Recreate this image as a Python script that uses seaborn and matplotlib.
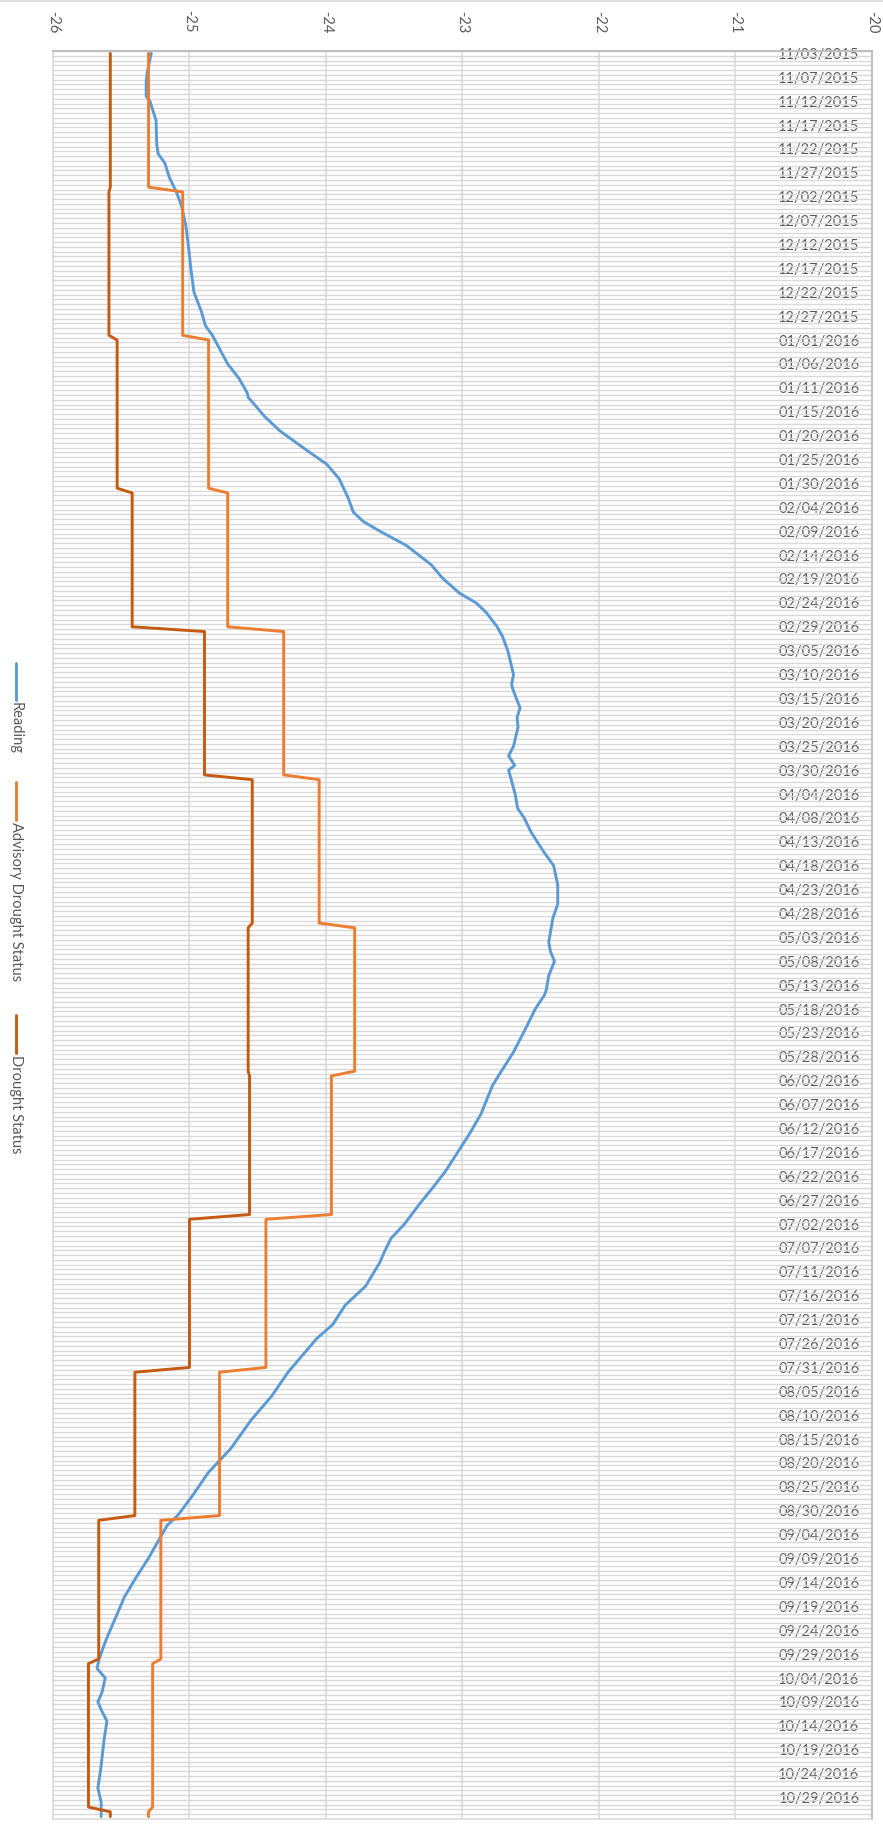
import numpy as np
import pandas as pd
import matplotlib
matplotlib.use("Agg")
import matplotlib.pyplot as plt
from matplotlib.lines import Line2D
import seaborn as sns

# category axis: one row per reading, a label every 5th row
category_count = 370
date_labels = [
    "11/03/2015", "11/07/2015", "11/12/2015", "11/17/2015", "11/22/2015", "11/27/2015",
    "12/02/2015", "12/07/2015", "12/12/2015", "12/17/2015", "12/22/2015", "12/27/2015",
    "01/01/2016", "01/06/2016", "01/11/2016", "01/15/2016", "01/20/2016", "01/25/2016",
    "01/30/2016", "02/04/2016", "02/09/2016", "02/14/2016", "02/19/2016", "02/24/2016",
    "02/29/2016", "03/05/2016", "03/10/2016", "03/15/2016", "03/20/2016", "03/25/2016",
    "03/30/2016", "04/04/2016", "04/08/2016", "04/13/2016", "04/18/2016", "04/23/2016",
    "04/28/2016", "05/03/2016", "05/08/2016", "05/13/2016", "05/18/2016", "05/23/2016",
    "05/28/2016", "06/02/2016", "06/07/2016", "06/12/2016", "06/17/2016", "06/22/2016",
    "06/27/2016", "07/02/2016", "07/07/2016", "07/11/2016", "07/16/2016", "07/21/2016",
    "07/26/2016", "07/31/2016", "08/05/2016", "08/10/2016", "08/15/2016", "08/20/2016",
    "08/25/2016", "08/30/2016", "09/04/2016", "09/09/2016", "09/14/2016", "09/19/2016",
    "09/24/2016", "09/29/2016", "10/04/2016", "10/09/2016", "10/14/2016", "10/19/2016",
    "10/24/2016", "10/29/2016",
]
value_ticks = [-26, -25, -24, -23, -22, -21, -20]

# Reading (at these rows)
reading_rows = [
    0, 4, 6, 9, 10, 14, 19, 21, 23, 26, 29, 32, 36, 40, 45, 50, 54, 57, 59,
    65, 68, 71, 72, 76, 79, 83, 86, 89, 93, 96, 98, 100, 103, 107, 110, 113, 115, 117, 120, 122,
    125, 130, 132, 133, 137, 139, 141, 145, 147, 149, 150, 155, 158, 160, 163, 167, 170, 174, 178, 181,
    186, 188, 190, 193, 196, 197, 200, 204, 209, 214, 216, 222, 226, 230, 234, 237, 241, 245, 248,
    251, 253, 258, 262, 266, 269, 276, 281, 286, 292, 297, 302, 306, 308, 311,
    315, 319, 323, 328, 332, 336, 338, 340, 343, 345, 347, 349, 353, 359, 363, 366, 369,
]
reading_values = [
    -25.28, -25.31, -25.317, -25.317, -25.29, -25.245, -25.24, -25.23, -25.18, -25.147, -25.096,
    -25.057, -25.027, -25.009, -24.99, -24.967, -24.913, -24.883, -24.832,
    -24.72, -24.638, -24.578, -24.569, -24.449, -24.338, -24.144, -23.994, -23.904, -23.838,
    -23.80, -23.725, -23.605, -23.41, -23.23, -23.14, -23.02, -22.90, -22.826, -22.746, -22.707,
    -22.668, -22.626, -22.64, -22.632, -22.578, -22.60, -22.593, -22.626, -22.662, -22.617,
    -22.662, -22.614, -22.596, -22.548, -22.497, -22.407, -22.332, -22.302, -22.302, -22.338,
    -22.368, -22.355, -22.326, -22.368, -22.386, -22.398, -22.467, -22.536, -22.626, -22.737,
    -22.78, -22.865, -22.946, -23.036, -23.126, -23.207, -23.32, -23.425, -23.524,
    -23.575, -23.605, -23.71, -23.86, -23.95, -24.069, -24.278, -24.398, -24.548, -24.698,
    -24.862, -24.982, -25.087, -25.162, -25.222,
    -25.302, -25.392, -25.476, -25.551, -25.611, -25.662, -25.677, -25.617, -25.641, -25.671,
    -25.641, -25.605, -25.626, -25.65, -25.671, -25.647, -25.647,
]

# status series are flat runs: first row of each run and its level
advisory_starts = [0, 29, 60, 92, 121, 152, 183, 214, 244, 276, 307, 337, 368]
advisory_levels = [-25.30, -25.05, -24.86, -24.72, -24.31, -24.05, -23.79,
                   -23.96, -24.44, -24.78, -25.21, -25.27, -25.30]
drought_starts = [0, 29, 60, 92, 121, 152, 183, 214, 244, 276, 307, 337, 368]
drought_levels = [-25.58, -25.59, -25.53, -25.42, -24.89, -24.54, -24.57,
                  -24.56, -25.00, -25.40, -25.665, -25.74, -25.58]

colors = {
    "Reading": "#5B9BD5",
    "Advisory Drought Status": "#ED7D31",
    "Drought Status": "#C55A11",
}
grid_color = "#D9D9D9"
text_color = "#595959"


def expand_runs(starts, levels, total):
    lengths = np.diff(starts + [total])
    return np.repeat(levels, lengths)


rows = np.arange(category_count)
status = pd.DataFrame({
    "row": rows,
    "Advisory Drought Status": expand_runs(advisory_starts, advisory_levels, category_count),
    "Drought Status": expand_runs(drought_starts, drought_levels, category_count),
})
reading = pd.DataFrame({"row": reading_rows, "value": reading_values})

sns.set_style("white")
plt.rcParams["font.family"] = ["Lato", "DejaVu Sans"]

fig = plt.figure(figsize=(8.83, 18.39), dpi=100)
ax = fig.add_axes([0.0600, 0.01088, 0.9275, 0.9614])

# chart is drawn turned on its side: values across, dates downwards
sns.lineplot(data=reading, x="value", y="row", sort=False, estimator=None,
             color=colors["Reading"], linewidth=2.1, ax=ax)
for name in ["Advisory Drought Status", "Drought Status"]:
    sns.lineplot(data=status, x=name, y="row", sort=False, estimator=None,
                 color=colors[name], linewidth=2.1, ax=ax)

ax.set_xlim(-26, -20)
ax.set_ylim(category_count - 0.5, -0.5)
ax.set_xlabel("")
ax.set_ylabel("")

# value axis on top, labels turned
ax.xaxis.tick_top()
ax.set_xticks(value_ticks)
ax.set_xticklabels([str(v) for v in value_ticks], rotation=270,
                   fontsize=10.5, color=text_color)
ax.tick_params(axis="x", length=0, pad=13)

# date labels sit inside the plot, right aligned
label_rows = rows[::5][:len(date_labels)]
ax.yaxis.tick_right()
ax.set_yticks(label_rows)
ax.set_yticklabels(date_labels, fontsize=10.5, color=text_color)
for lbl in ax.get_yticklabels():
    lbl.set_horizontalalignment("right")
ax.tick_params(axis="y", which="both", length=0, pad=-9)
ax.set_yticks(np.arange(category_count + 1) - 0.5, minor=True)

ax.grid(False)
ax.grid(True, which="minor", axis="y", color=grid_color, linewidth=1.0)
ax.grid(True, which="major", axis="x", color=grid_color, linewidth=1.1)
ax.set_axisbelow(True)

for side in ["left", "bottom"]:
    ax.spines[side].set_color(grid_color)
    ax.spines[side].set_linewidth(1.1)
for side in ["top", "right"]:
    ax.spines[side].set_color("#BFBFBF")
    ax.spines[side].set_linewidth(1.5)

# legend down the left side, text turned like the rest
legend_x = 0.0176
legend_items = [
    ("Reading", 0.6395, 0.6194),
    ("Advisory Drought Status", 0.5748, 0.5541),
    ("Drought Status", 0.4481, 0.4274),
]
for name, y_top, y_bot in legend_items:
    fig.lines.append(Line2D([legend_x, legend_x], [y_top, y_bot], transform=fig.transFigure,
                            color=colors[name], linewidth=2.1))
    fig.text(legend_x, y_bot - 0.001, name, rotation=270, ha="center", va="top",
             fontsize=10.5, color=text_color)

# thin chart border along the top edge
fig.lines.append(Line2D([0, 1], [0.9995, 0.9995], transform=fig.transFigure,
                        color=grid_color, linewidth=1.2))

fig.savefig("out.png", dpi=100)
